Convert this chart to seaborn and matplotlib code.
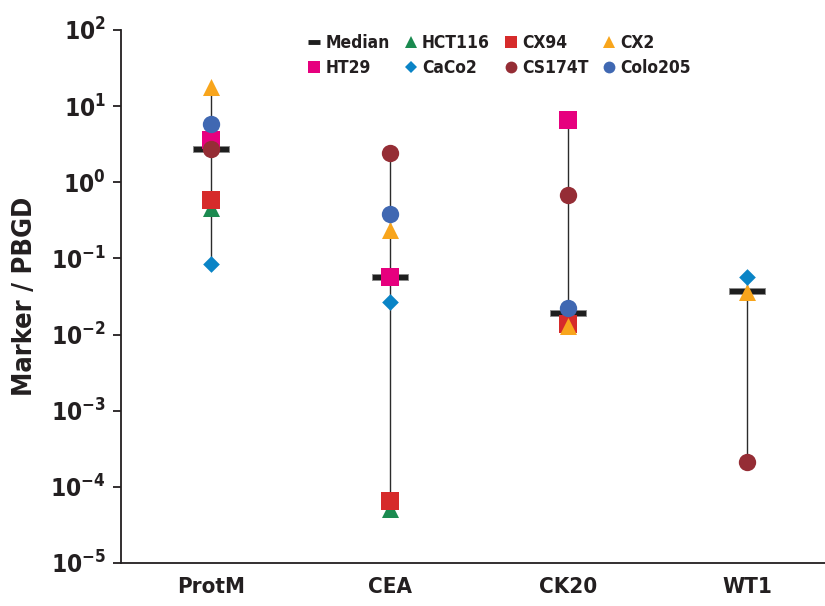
import numpy as np
import pandas as pd
import seaborn as sns
import matplotlib.pyplot as plt
from matplotlib.path import Path
from matplotlib.lines import Line2D

# ---- data ----
categories = ["ProtM", "CEA", "CK20", "WT1"]
series_names = ["HCT116", "CX94", "CX2", "HT29", "CaCo2", "CS174T", "Colo205"]
HCT116 = [0.46, 5.1e-5, np.nan, np.nan]
CX94 = [0.58, 6.5e-5, 0.0137, np.nan]
CX2 = [17.8, 0.235, 0.0129, 0.036]
HT29 = [3.6, 0.057, 6.6, np.nan]
CaCo2 = [0.084, 0.0267, np.nan, 0.057]
CS174T = [2.73, 2.42, 0.68, 2.1e-4]
Colo205 = [5.8, 0.38, 0.0222, np.nan]
median = [2.73, 0.057, 0.0191, 0.037]
ytick_exponents = [-5, -4, -3, -2, -1, 0, 1, 2]

values = {"HCT116": HCT116, "CX94": CX94, "CX2": CX2, "HT29": HT29,
          "CaCo2": CaCo2, "CS174T": CS174T, "Colo205": Colo205}
colors = {"HCT116": "#1b8a50", "CX94": "#d62b2b", "CX2": "#f8a51c",
          "HT29": "#e6007e", "CaCo2": "#0a84c6", "CS174T": "#952d35",
          "Colo205": "#4068b2"}
mk = {"HCT116": "^", "CX94": "s", "CX2": "^", "HT29": "s",
      "CaCo2": "D", "CS174T": "o", "Colo205": "o"}
sz = {"^": 150, "s": 169, "D": 72, "o": 156}

rows = []
for s in series_names:
    for i, c in enumerate(categories):
        v = values[s][i]
        if not np.isnan(v):
            rows.append({"series": s, "category": c, "xpos": i, "value": v})
df = pd.DataFrame(rows)

sns.set_style("ticks")
plt.rcParams["font.family"] = ["DejaVu Sans"]
plt.rcParams["font.stretch"] = "condensed"
plt.rcParams["font.weight"] = "bold"
TXT = "#231f20"

fig = plt.figure(figsize=(8.25, 6.06), dpi=100)
ax = fig.add_axes([0.1467, 0.071, 0.8533, 0.8795])

# range lines
rng = df.groupby("xpos")["value"].agg(["min", "max"]).reset_index()
ax.vlines(rng["xpos"], rng["min"], rng["max"], color="#2b2b2b", lw=1.0, zorder=1)

# median bars
bar = Path([(-1, -0.19), (1, -0.19), (1, 0.19), (-1, 0.19), (-1, -0.19)],
           [Path.MOVETO, Path.LINETO, Path.LINETO, Path.LINETO, Path.CLOSEPOLY])
mdf = pd.DataFrame({"xpos": range(len(categories)), "value": median})
sns.scatterplot(data=mdf, x="xpos", y="value", marker=bar, s=26 ** 2,
                color="#1e1e1e", edgecolor="#8a8a8a", linewidth=0.6,
                zorder=2, ax=ax, legend=False)

for s in series_names:
    d = df[df["series"] == s]
    sns.scatterplot(data=d, x="xpos", y="value", marker=mk[s], s=sz[mk[s]],
                    color=colors[s], linewidth=0, zorder=3, ax=ax, legend=False)

ax.set_yscale("log")
ax.set_ylim(1e-5, 1e2)
ax.set_xlim(-0.504, 3.436)
ax.set_yticks([10.0 ** e for e in ytick_exponents])
ax.set_yticklabels([r"$\mathregular{10^{%d}}$" % e for e in ytick_exponents])
ax.yaxis.set_minor_locator(plt.NullLocator())
ax.set_xticks(range(len(categories)))
ax.set_xticklabels(categories)
ax.tick_params(axis="x", length=0, labelsize=16, pad=10, colors=TXT)
ax.tick_params(axis="y", length=6, width=1.3, labelsize=17.5, pad=5,
               direction="out", colors=TXT)
for lab in ax.get_xticklabels() + ax.get_yticklabels():
    lab.set_fontweight("bold")
    lab.set_fontstretch("condensed")
for sp in ["top", "right"]:
    ax.spines[sp].set_visible(False)
for sp in ["left", "bottom"]:
    ax.spines[sp].set_linewidth(1.3)
    ax.spines[sp].set_color(TXT)
ax.set_xlabel("")
ax.set_ylabel("Marker / PBGD", fontsize=19.5, fontweight="bold",
              fontstretch="condensed", color=TXT)
ax.yaxis.set_label_coords(-0.118, 0.5)

# legend
handles = [Line2D([0], [0], color="#1e1e1e", lw=3.5, solid_capstyle="butt")]
labels = ["Median"]
lsz = {"^": 9, "s": 8.5, "D": 6.5, "o": 8.5}
for s in series_names:
    handles.append(Line2D([0], [0], linestyle="none", marker=mk[s],
                          markersize=lsz[mk[s]], color=colors[s],
                          markeredgewidth=0))
    labels.append(s)
order = [0, 4, 1, 5, 2, 6, 3, 7]
leg = fig.legend([handles[i] for i in order], [labels[i] for i in order],
                 ncol=4, loc="center left", bbox_to_anchor=(0.3733, 0.909),
                 frameon=False, prop={"size": 12.5, "weight": "bold",
                                      "stretch": "condensed"},
                 handlelength=0.7, handletextpad=0.3, columnspacing=0.85,
                 labelspacing=0.4, borderpad=0, borderaxespad=0)
for t in leg.get_texts():
    t.set_color(TXT)

fig.savefig("out.png", dpi=100)
